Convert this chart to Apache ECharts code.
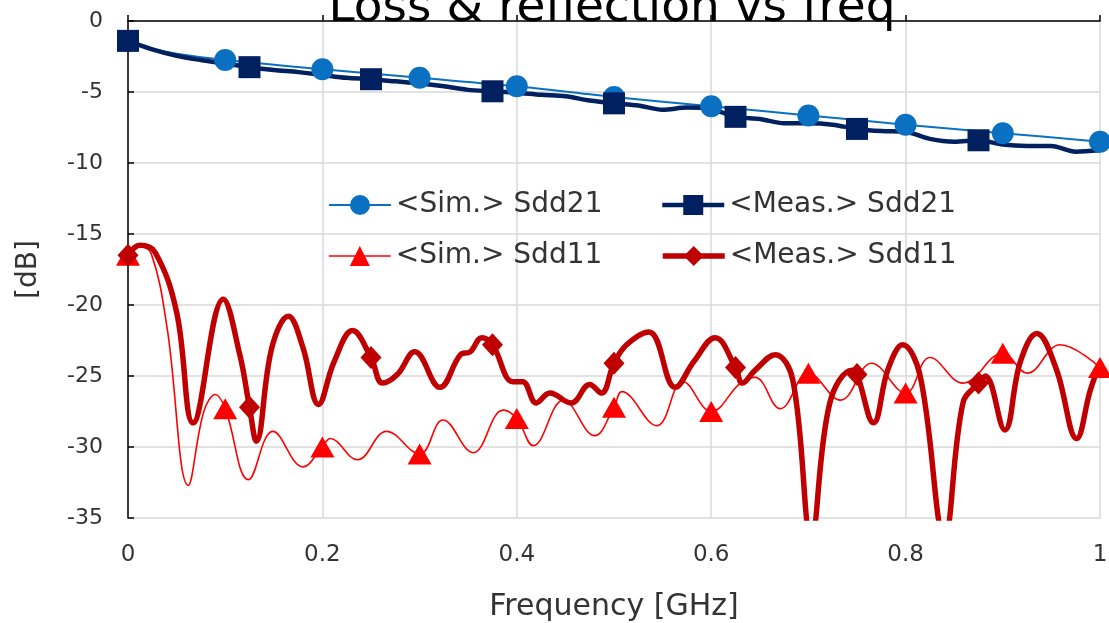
<!DOCTYPE html>
<html>
<head>
<meta charset="utf-8">
<script src="https://cdn.jsdelivr.net/npm/echarts@6/dist/echarts.min.js"></script>
<style>
  html, body { margin: 0; padding: 0; background: #fff; }
  #chart { width: 1109px; height: 623px; }
</style>
</head>
<body>
<div id="chart"></div>
<script>
// frequency in GHz, values in dB
const simS21Freq = [0, 0.025, 0.05, 0.1, 0.2, 0.3, 0.4, 0.5, 0.6, 0.7, 0.8, 0.9, 1.0];
const simS21 = [-1.4, -1.95, -2.3, -2.75, -3.4, -4.0, -4.6, -5.35, -6.0, -6.65, -7.3, -7.9, -8.5];

const measS21Freq = [0, 0.025, 0.05, 0.075, 0.1, 0.125, 0.15, 0.175, 0.2, 0.225, 0.25, 0.275, 0.3, 0.325,
  0.35, 0.375, 0.4, 0.425, 0.45, 0.475, 0.5, 0.525, 0.55, 0.575, 0.6, 0.625, 0.65, 0.675, 0.7, 0.725,
  0.75, 0.775, 0.8, 0.825, 0.85, 0.875, 0.9, 0.925, 0.95, 0.975, 1.0];
const measS21 = [-1.4, -2.0, -2.45, -2.75, -3.0, -3.25, -3.45, -3.6, -3.8, -4.0, -4.1, -4.25, -4.4, -4.6,
  -4.85, -4.95, -5.05, -5.2, -5.3, -5.6, -5.8, -5.95, -6.25, -6.1, -6.2, -6.75, -6.9, -7.2, -7.2, -7.3,
  -7.6, -7.75, -7.8, -8.3, -8.5, -8.4, -8.7, -8.8, -8.8, -9.2, -9.1];

const simS11Freq = [0, 0.012, 0.024, 0.04, 0.062, 0.078, 0.09, 0.1, 0.124, 0.149, 0.18, 0.2, 0.208, 0.236,
  0.266, 0.3, 0.324, 0.355, 0.386, 0.4, 0.417, 0.448, 0.48, 0.5, 0.508, 0.544, 0.571, 0.6, 0.63, 0.645,
  0.671, 0.7, 0.733, 0.765, 0.8, 0.825, 0.859, 0.9, 0.925, 0.959, 1.0];
const simS11 = [-16.5, -15.9, -16.4, -21.5, -32.7, -27.5, -26.3, -27.3, -32.3, -28.9, -31.4, -30.0, -29.4, -30.9,
  -28.9, -30.5, -28.1, -30.4, -27.4, -28.0, -29.9, -26.7, -29.2, -27.2, -26.1, -28.5, -25.4, -27.5, -25.5, -25.1,
  -27.3, -24.8, -26.7, -24.1, -26.2, -23.7, -25.5, -23.4, -24.8, -22.8, -24.4];

const measS11Freq = [0, 0.012, 0.028, 0.05, 0.067, 0.098, 0.115, 0.125, 0.132, 0.148, 0.165, 0.18, 0.196,
  0.212, 0.231, 0.25, 0.262, 0.277, 0.295, 0.321, 0.342, 0.352, 0.364, 0.375, 0.396, 0.406, 0.42, 0.434,
  0.456, 0.475, 0.487, 0.5, 0.513, 0.536, 0.563, 0.582, 0.604, 0.625, 0.632, 0.645, 0.666, 0.684,
  0.703, 0.722, 0.745, 0.75, 0.767, 0.782, 0.797, 0.815, 0.84, 0.859, 0.875, 0.882, 0.902, 0.918, 0.935,
  0.955, 0.976, 0.99, 1.0];
const measS11 = [-16.5, -15.8, -16.3, -20.5, -28.3, -19.6, -23.5, -27.2, -29.6, -23.0, -20.8, -23.0, -27.0,
  -24.0, -21.8, -23.7, -25.5, -24.9, -23.3, -25.8, -23.5, -23.3, -22.3, -22.8, -25.4, -25.4, -26.9, -26.2,
  -26.9, -25.6, -26.2, -24.1, -22.8, -21.9, -25.8, -24.0, -22.3, -24.4, -25.5, -24.6, -23.5, -25.3,
  -36.3, -26.9, -24.6, -24.9, -28.3, -24.5, -22.8, -25.0, -36.3, -26.9, -25.5, -25.0, -28.8, -24.0, -22.0,
  -24.5, -29.4, -26.0, -24.1];

// where the markers sit
const simMarks = [0, 0.1, 0.2, 0.3, 0.4, 0.5, 0.6, 0.7, 0.8, 0.9, 1.0];
const measMarks = [0, 0.125, 0.25, 0.375, 0.5, 0.625, 0.75, 0.875];

const seriesNames = ['<Sim.> Sdd21', '<Meas.> Sdd21', '<Sim.> Sdd11', '<Meas.> Sdd11'];
const xTicks = [0, 0.2, 0.4, 0.6, 0.8, 1];
const yTicks = [0, -5, -10, -15, -20, -25, -30, -35];

const FONT = "'DejaVu Sans', Verdana, sans-serif";

function buildData(freq, vals, marks) {
  return freq.map((f, i) => {
    const mark = marks.some(m => Math.abs(m - f) < 1e-6);
    return mark ? [f, vals[i]] : { value: [f, vals[i]], symbol: 'none' };
  });
}

function legendAt(name, left, top) {
  return {
    data: [name],
    left: left,
    top: top,
    padding: 0,
    itemWidth: 62,
    itemHeight: 25,
    selectedMode: false,
    lineStyle: { width: 'inherit' },
    textStyle: { fontFamily: FONT, fontSize: 28, color: '#333333' }
  };
}

const chart = echarts.init(document.getElementById('chart'), null, { renderer: 'canvas' });

const option = {
  animation: false,
  backgroundColor: '#ffffff',
  title: {
    text: 'Loss & reflection vs freq',
    left: 607,
    top: -20,
    textAlign: 'center',
    textStyle: { fontFamily: FONT, fontSize: 47, fontWeight: 'normal', color: '#000000' }
  },
  legend: [
    legendAt(seriesNames[0], 328, 191),
    legendAt(seriesNames[1], 660, 191),
    legendAt(seriesNames[2], 328, 242),
    legendAt(seriesNames[3], 660, 242)
  ],
  grid: { left: 128, right: 9, top: 21, bottom: 105, containLabel: false, outerBoundsMode: 'none' },
  xAxis: {
    type: 'value',
    min: xTicks[0],
    max: xTicks[xTicks.length - 1],
    interval: 0.2,
    name: 'Frequency [GHz]',
    nameLocation: 'middle',
    nameGap: 74,
    nameTextStyle: { fontFamily: FONT, fontSize: 30, color: '#333333' },
    axisLine: { lineStyle: { color: '#000000', width: 1.5 } },
    axisTick: { inside: true, length: 6, lineStyle: { color: '#000000', width: 1.5 } },
    axisLabel: { margin: 26, fontFamily: FONT, fontSize: 23, color: '#333333' },
    splitLine: { show: true, lineStyle: { color: '#d9d9d9', width: 1.5 } }
  },
  yAxis: {
    type: 'value',
    min: yTicks[yTicks.length - 1],
    max: yTicks[0],
    interval: 5,
    name: '[dB]',
    nameLocation: 'middle',
    nameGap: 85,
    nameTextStyle: { fontFamily: FONT, fontSize: 28, color: '#333333' },
    axisLine: { show: true, lineStyle: { color: '#000000', width: 1.5 } },
    axisTick: { show: true, inside: true, length: 6, lineStyle: { color: '#000000', width: 1.5 } },
    axisLabel: { margin: 25, fontFamily: FONT, fontSize: 22, color: '#333333' },
    splitLine: { show: true, lineStyle: { color: '#d9d9d9', width: 1.5 } }
  },
  series: [
    {
      name: seriesNames[0],
      type: 'line',
      smooth: 0.3,
      symbol: 'circle',
      symbolSize: 22,
      showAllSymbol: true,
      color: '#0a70c2',
      lineStyle: { width: 2, color: '#0a70c2' },
      data: buildData(simS21Freq, simS21, simMarks)
    },
    {
      name: seriesNames[1],
      type: 'line',
      smooth: 0.3,
      symbol: 'rect',
      symbolSize: 22,
      showAllSymbol: true,
      color: '#002060',
      lineStyle: { width: 4.5, color: '#002060' },
      data: buildData(measS21Freq, measS21, measMarks)
    },
    {
      name: seriesNames[2],
      type: 'line',
      smooth: 0.4,
      symbol: 'triangle',
      symbolSize: [24, 21],
      showAllSymbol: true,
      color: '#ff0000',
      lineStyle: { width: 1.6, color: '#ff0000' },
      data: buildData(simS11Freq, simS11, simMarks)
    },
    {
      name: seriesNames[3],
      type: 'line',
      smooth: 0.4,
      symbol: 'diamond',
      symbolSize: [21, 23],
      showAllSymbol: true,
      color: '#c00000',
      lineStyle: { width: 5.5, color: '#c00000' },
      data: buildData(measS11Freq, measS11, measMarks)
    }
  ]
};

chart.setOption(option);
</script>
</body>
</html>
